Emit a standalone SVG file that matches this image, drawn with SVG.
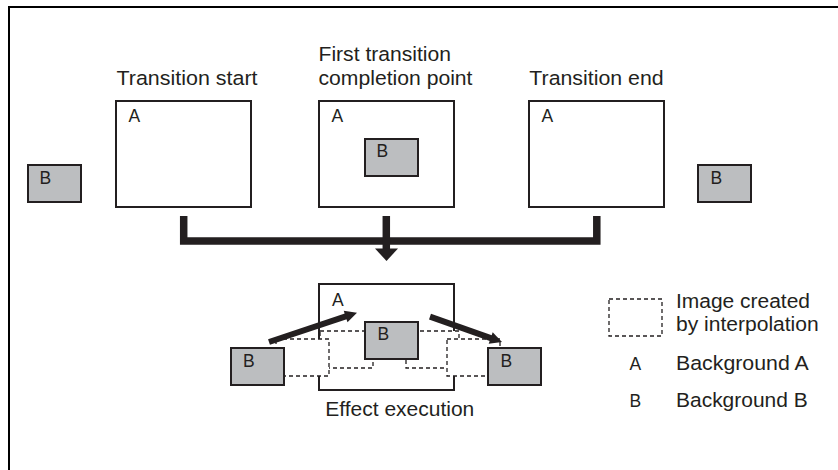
<svg xmlns="http://www.w3.org/2000/svg" width="838" height="470" viewBox="0 0 838 470">
<style>
text{font-family:"Liberation Sans",Arial,sans-serif;fill:#231f20}
.t{font-size:20.5px}
.s{font-size:19.5px}
.l{font-size:17.5px}
.box{fill:#fff;stroke:#231f20;stroke-width:2}
.gb{fill:#bcbec0;stroke:#231f20;stroke-width:2}
.dash{fill:#fff;stroke:#231f20;stroke-width:1.3;stroke-dasharray:4 3}
.thick{fill:none;stroke:#231f20;stroke-width:7.5;stroke-linejoin:miter}
.head{fill:#231f20}
</style>
<rect width="838" height="470" fill="#fff"/>
<path d="M9,470 V7 H838" fill="none" stroke="#000" stroke-width="2"/>

<g id="bg-b-left">
<rect class="gb" x="28" y="165" width="53" height="37"/>
<text class="l" x="39.5" y="183.5">B</text>
</g>
<g id="transition-start">
<text class="t" x="116.5" y="85" textLength="141" lengthAdjust="spacingAndGlyphs">Transition start</text>
<rect class="box" x="116" y="101" width="135" height="106"/>
<text class="l" x="128.5" y="122">A</text>
</g>
<g id="first-completion">
<text class="t" x="318.5" y="60.7" textLength="132.5" lengthAdjust="spacingAndGlyphs">First transition</text>
<text class="t" x="318.5" y="85" textLength="154" lengthAdjust="spacingAndGlyphs">completion point</text>
<rect class="box" x="319" y="101" width="135" height="106"/>
<text class="l" x="331.5" y="122">A</text>
<rect class="gb" x="365" y="139" width="53" height="37"/>
<text class="l" x="376.5" y="157">B</text>
</g>
<g id="transition-end">
<text class="t" x="529.3" y="85" textLength="134.3" lengthAdjust="spacingAndGlyphs">Transition end</text>
<rect class="box" x="529" y="101" width="135" height="106"/>
<text class="l" x="541.5" y="122">A</text>
</g>
<g id="bg-b-right">
<rect class="gb" x="698" y="165" width="53" height="37"/>
<text class="l" x="710.5" y="183.5">B</text>
</g>

<g id="effect-execution">
<rect class="box" x="319" y="284" width="135" height="106"/>
<rect class="dash" x="320" y="331" width="53" height="37"/>
<rect class="dash" x="406" y="331" width="53" height="37"/>
<rect class="dash" x="276" y="339" width="53" height="37"/>
<rect class="dash" x="447" y="339" width="53" height="37"/>
<rect class="gb" x="231" y="348" width="53" height="37"/>
<rect class="gb" x="365" y="322" width="53" height="37"/>
<rect class="gb" x="488" y="348" width="53" height="37"/>
<text class="l" x="332" y="306">A</text>
<text class="l" x="243" y="366.7">B</text>
<text class="l" x="377.5" y="340.3">B</text>
<text class="l" x="500.5" y="366.7">B</text>
<text class="t" x="325.3" y="415.7" textLength="149" lengthAdjust="spacingAndGlyphs">Effect execution</text>
</g>

<g id="legend">
<rect class="dash" x="609" y="299" width="53" height="37" fill="none"/>
<text class="s" x="676" y="308" textLength="134" lengthAdjust="spacingAndGlyphs">Image created</text>
<text class="s" x="676" y="331" textLength="142.7" lengthAdjust="spacingAndGlyphs">by interpolation</text>
<text class="l" x="629.5" y="370">A</text>
<text class="t" x="676" y="370" textLength="132.7" lengthAdjust="spacingAndGlyphs">Background A</text>
<text class="l" x="629.5" y="406.7">B</text>
<text class="t" x="676" y="406.7" textLength="131.7" lengthAdjust="spacingAndGlyphs">Background B</text>
</g>

<g id="connectors">
<path class="thick" d="M183.7,216 V241 H596.8 V216"/>
<path class="thick" d="M386.3,216 V250"/>
<polygon class="head" points="375,248.5 398,248.5 386.5,261"/>
<line x1="269" y1="342" x2="346.5" y2="316.2" stroke="#231f20" stroke-width="6"/>
<polygon class="head" points="357,312.7 347.5,322.2 343.7,310.8"/>
<line x1="430" y1="316.7" x2="491.5" y2="338.3" stroke="#231f20" stroke-width="6"/>
<polygon class="head" points="502,342 488.7,343.7 492.7,332.3"/>
</g>
</svg>
